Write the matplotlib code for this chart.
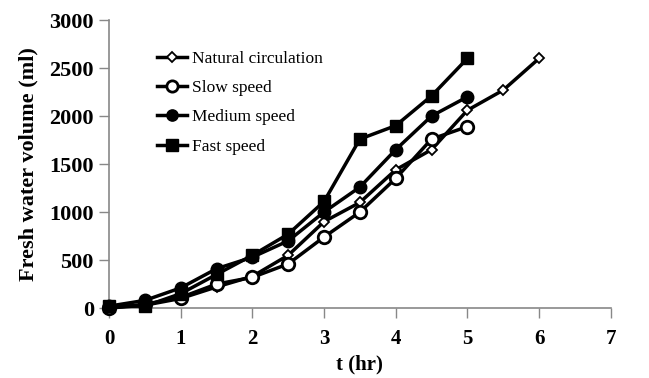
import matplotlib.pyplot as plt

# time (hr)
t_natural = [0, 0.5, 1, 1.5, 2, 2.5, 3, 3.5, 4, 4.5, 5, 5.5, 6]
t_speed = [0, 0.5, 1, 1.5, 2, 2.5, 3, 3.5, 4, 4.5, 5]

# fresh water volume (ml)
natural = [0, 30, 100, 220, 330, 550, 900, 1100, 1440, 1650, 2060, 2270, 2600]
slow = [0, 40, 110, 250, 320, 460, 740, 1000, 1350, 1760, 1890]
medium = [20, 80, 210, 410, 530, 700, 1000, 1260, 1650, 2000, 2200]
fast = [20, 20, 150, 350, 550, 770, 1110, 1760, 1900, 2210, 2600]

xticks = [0, 1, 2, 3, 4, 5, 6, 7]
yticks = [0, 500, 1000, 1500, 2000, 2500, 3000]

plt.rcParams['font.family'] = ['Liberation Serif', 'DejaVu Serif']

fig = plt.figure(figsize=(6.49, 3.78), dpi=100)
ax = fig.add_axes([0.168, 0.185, 0.773, 0.762])

lw = 2.5
ax.plot(t_natural, natural, color='black', lw=lw, marker='D', ms=5.5,
        mfc='white', mec='black', mew=1.3, label='Natural circulation', clip_on=False, zorder=3)
ax.plot(t_speed, slow, color='black', lw=lw, marker='o', ms=9,
        mfc='white', mec='black', mew=2, label='Slow speed', clip_on=False, zorder=3)
ax.plot(t_speed, medium, color='black', lw=lw, marker='o', ms=9,
        mfc='black', mec='black', label='Medium speed', clip_on=False, zorder=3)
ax.plot(t_speed, fast, color='black', lw=lw, marker='s', ms=9,
        mfc='black', mec='black', label='Fast speed', clip_on=False, zorder=3)

ax.set_xlim(0, 7)
ax.set_ylim(0, 3000)
ax.set_xticks(xticks)
ax.set_yticks(yticks)
ax.tick_params(direction='out', length=7, width=1, color='#888888')
ax.tick_params(axis='x', labelsize=15, pad=8)
ax.tick_params(axis='y', labelsize=16, pad=4)
for lab in ax.get_xticklabels() + ax.get_yticklabels():
    lab.set_fontweight('bold')

for s in ['top', 'right']:
    ax.spines[s].set_visible(False)
for s in ['left', 'bottom']:
    ax.spines[s].set_color('#888888')
    ax.spines[s].set_linewidth(1.2)

ax.set_xlabel('t (hr)', fontsize=15, fontweight='bold', labelpad=4)
ax.set_ylabel('Fresh water volume (ml)', fontsize=16, fontweight='bold', labelpad=8)

ax.legend(loc='upper left', bbox_to_anchor=(0.065, 0.947), frameon=False, fontsize=12.5,
          handlelength=1.7, handletextpad=0.3, labelspacing=0.75, markerscale=0.9)

fig.savefig('out.png', dpi=100)
